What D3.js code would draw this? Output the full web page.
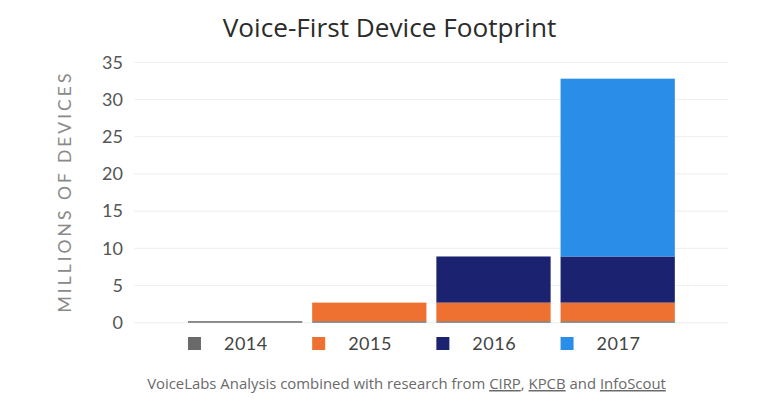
<!DOCTYPE html>
<html>
<head>
<meta charset="utf-8">
<script src="https://cdn.jsdelivr.net/npm/d3@7"></script>
<style>
  html, body { margin: 0; padding: 0; background: #fff; }
  svg { display: block; }
</style>
</head>
<body>
<svg id="chart" width="773" height="417"></svg>
<script>
// ---- data ----
const categories = ["2014", "2015", "2016", "2017"];
const seriesNames = ["2014", "2015", "2016", "2017"];
// stacked contributions per bar (millions of devices), bar i contains series 0..i
const series2014 = [0.2, 0.2, 0.2, 0.2];
const series2015 = [0, 2.5, 2.5, 2.5];
const series2016 = [0, 0, 6.2, 6.2];
const series2017 = [0, 0, 0, 23.9];
const yTicks = [0, 5, 10, 15, 20, 25, 30, 35];
const colors = ["#6a6a6a", "#ef7131", "#1b2370", "#2a8de8"];
const titleText = "Voice-First Device Footprint";
const yTitle = "MILLIONS OF DEVICES";

const svg = d3.select("#chart");

const x = d3.scaleBand().domain(categories).range([183, 679.8]).paddingInner(0.08).paddingOuter(0.04);
const y = d3.scaleLinear().domain([0, 35]).range([322.7, 62.3]);

// gridlines
svg.append("g").selectAll("line").data(yTicks).join("line")
  .attr("x1", 134).attr("x2", 728)
  .attr("y1", d => y(d)).attr("y2", d => y(d))
  .attr("stroke", "#f1f1f1").attr("stroke-width", 1.2);

// tick labels
svg.append("g").selectAll("text").data(yTicks).join("text")
  .attr("x", 123).attr("y", d => y(d)).attr("dy", "0.35em")
  .attr("text-anchor", "end")
  .attr("font-family", "Lato, 'Open Sans', sans-serif")
  .attr("font-size", 18).attr("fill", "#555")
  .text(d => d);

// y title
svg.append("text")
  .attr("transform", `translate(71,${(68+315)/2}) rotate(-90)`)
  .attr("text-anchor", "middle")
  .attr("font-family", "Lato, 'Open Sans', sans-serif")
  .attr("font-size", 17.5).attr("fill", "#8a8a8a")
  .attr("letter-spacing", "3px")
  .text(yTitle);

// stacked bars
const table = categories.map((c, i) => ({
  cat: c,
  "2014": series2014[i], "2015": series2015[i], "2016": series2016[i], "2017": series2017[i]
}));
const stacked = d3.stack().keys(seriesNames)(table);
svg.append("g").selectAll("g").data(stacked).join("g")
  .attr("fill", (d, i) => colors[i])
  .selectAll("rect").data(d => d.filter(p => p[1] - p[0] > 0)).join("rect")
  .attr("x", d => x(d.data.cat))
  .attr("width", x.bandwidth())
  .attr("y", d => y(d[1]))
  .attr("height", d => y(d[0]) - y(d[1]));

// legend
const lg = svg.append("g").selectAll("g").data(seriesNames).join("g")
  .attr("transform", (d, i) => `translate(${x(categories[i])},0)`);
lg.append("rect").attr("x", 0).attr("y", 337).attr("width", 13).attr("height", 13)
  .attr("fill", (d, i) => colors[i]);
lg.append("text").attr("x", 36).attr("y", 344).attr("dy", "0.35em")
  .attr("font-family", "Lato, 'Open Sans', sans-serif")
  .attr("font-size", 18).attr("fill", "#444")
  .attr("letter-spacing", "0.5px")
  .text(d => d);

// title
svg.append("text")
  .attr("x", 389.5).attr("y", 37)
  .attr("text-anchor", "middle")
  .attr("font-family", "'Open Sans', sans-serif")
  .attr("font-size", 26.2).attr("fill", "#2b2b2b")
  .text(titleText);

// footer
const foot = svg.append("text")
  .attr("x", 406.5).attr("y", 389)
  .attr("text-anchor", "middle")
  .attr("font-family", "'Open Sans', sans-serif")
  .attr("font-size", 14.9).attr("fill", "#6a6a6a");
foot.append("tspan").text("VoiceLabs Analysis combined with research from ");
foot.append("tspan").attr("text-decoration", "underline").text("CIRP");
foot.append("tspan").text(", ");
foot.append("tspan").attr("text-decoration", "underline").text("KPCB");
foot.append("tspan").text(" and ");
foot.append("tspan").attr("text-decoration", "underline").text("InfoScout");
</script>
</body>
</html>
